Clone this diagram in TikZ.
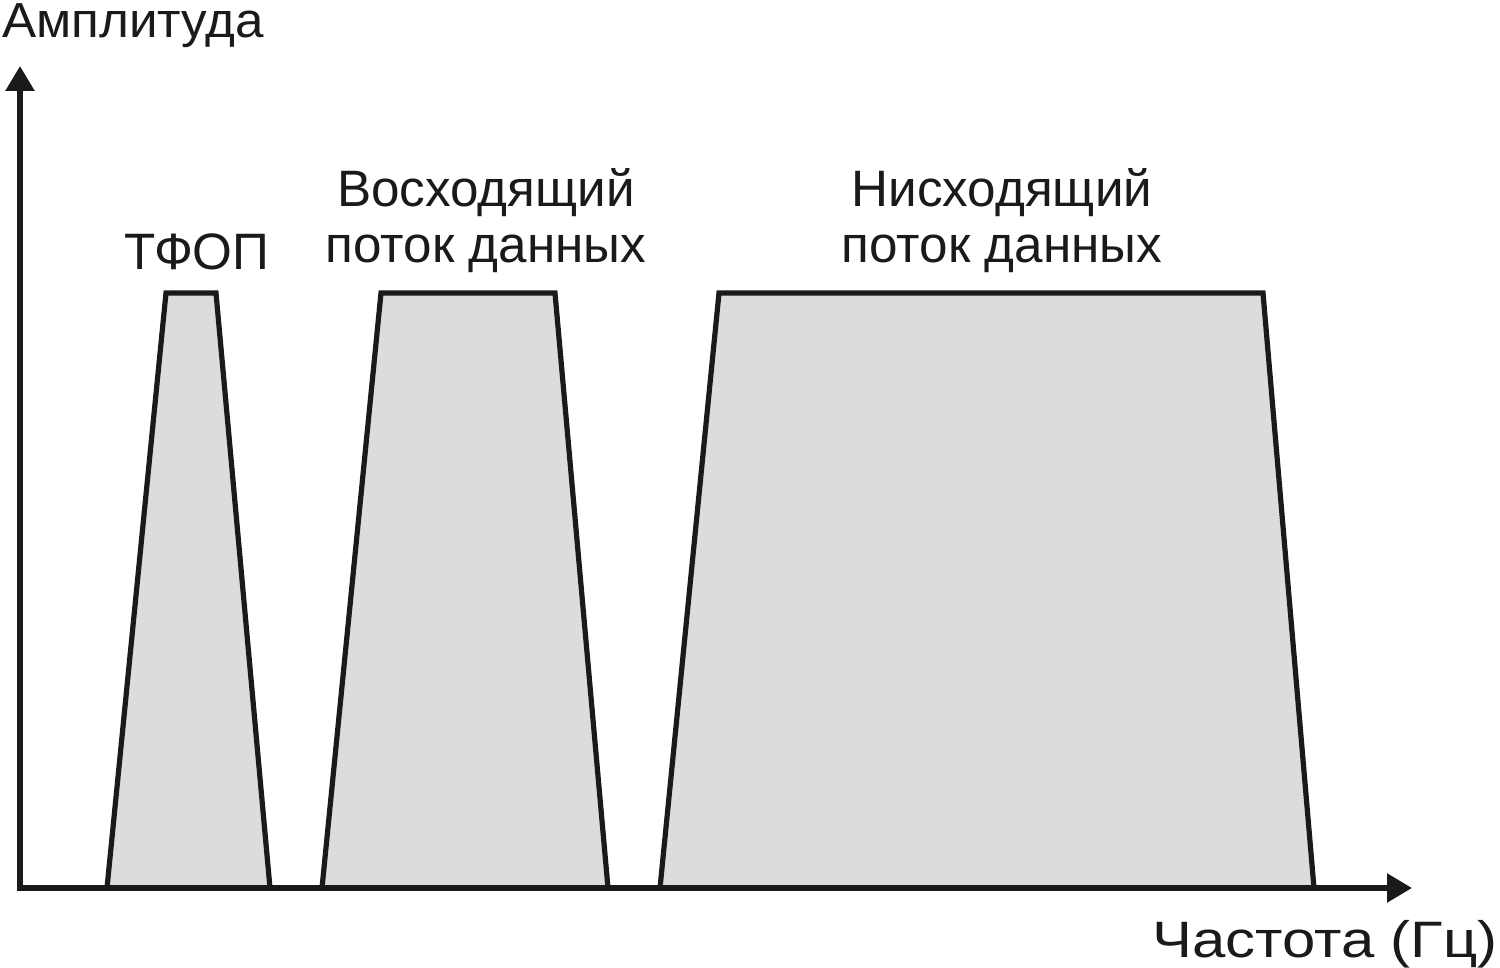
\documentclass[tikz,border=0pt]{standalone}
\usepackage{fontspec}
\setmainfont{Liberation Sans}
\usetikzlibrary{arrows.meta}
\definecolor{bandfill}{HTML}{DCDCDC}
\definecolor{ink}{HTML}{1A1A1A}
\begin{document}
\begin{tikzpicture}[x=0.5pt,y=-0.5pt,
  band/.style={draw=ink,fill=bandfill,line width=2.6pt,line join=miter},
  axis/.style={draw=ink,line width=2.8pt,-{Triangle[length=12.5pt,width=14pt]}},
  lbl/.style={font=\fontsize{25.6}{30}\selectfont,text=ink,inner sep=0pt,anchor=base}]
\useasboundingbox (0,0) rectangle (1500,968);
% bands
\draw[band] (107,888) -- (166,293) -- (216,293) -- (270,888);
\draw[band] (322,888) -- (381,293) -- (555,293) -- (608,888);
\draw[band] (660,888) -- (719,293) -- (1263,293) -- (1314,888);
% axes
\coordinate (o) at (20,888);
\coordinate (ytip) at (20,66);
\coordinate (xtip) at (1412,888);
\coordinate (xstart) at (17,888);
\draw[axis] (xstart) -- (xtip);
\draw[axis] (o) -- (ytip);
% labels
\node[lbl,anchor=base west,font=\fontsize{24.6}{29}\selectfont] (amp) at (2,38) {\scalebox{1.04}[1]{Амплитуда}};
\node[lbl,anchor=base east] (freq) at (1498,957) {\scalebox{1.17}[1]{Частота (Гц)}};
\node[lbl] (tfop) at (197,270) {ТФОП};
\node[lbl] (up1) at (486,207) {Восходящий};
\node[lbl] (up2) at (486,263) {поток данных};
\node[lbl] (dn1) at (1002,207) {Нисходящий};
\node[lbl] (dn2) at (1002,263) {поток данных};
\end{tikzpicture}
\end{document}
